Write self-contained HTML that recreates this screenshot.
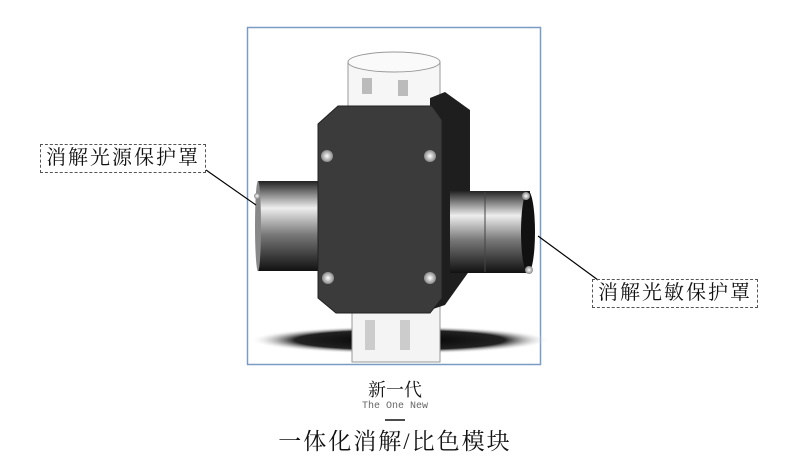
<!DOCTYPE html>
<html><head><meta charset="utf-8"><style>
body{margin:0;background:#fff;width:790px;height:471px;overflow:hidden;position:relative;font-family:"Liberation Sans","Noto Sans CJK SC",sans-serif}
.lbl{position:absolute;border:1px dashed #555;font-size:20px;color:#111;line-height:27px;padding:0 5px;font-family:"Liberation Serif","Noto Serif CJK SC",serif;white-space:nowrap;letter-spacing:2px}
.t{position:absolute;left:0;width:790px;text-align:center;color:#111}
</style></head><body>
<svg width="790" height="471" style="position:absolute;left:0;top:0">
<defs>
<linearGradient id="cyl" x1="0" y1="0" x2="0" y2="1">
<stop offset="0" stop-color="#222"/><stop offset="0.3" stop-color="#eee"/><stop offset="0.6" stop-color="#777"/><stop offset="1" stop-color="#111"/></linearGradient>
<radialGradient id="sh" cx="0.5" cy="0.5" r="0.5"><stop offset="0" stop-color="#000"/><stop offset="0.7" stop-color="#222"/><stop offset="1" stop-color="#fff" stop-opacity="0"/></radialGradient>
<radialGradient id="sc"><stop offset="0" stop-color="#fff"/><stop offset="1" stop-color="#888"/></radialGradient>
</defs>
<rect x="247.5" y="27.5" width="293" height="337" fill="#fff" stroke="#7a9cc4" stroke-width="1.5"/>
<ellipse cx="400" cy="340" rx="150" ry="14" fill="url(#sh)"/>
<rect x="352" y="305" width="88" height="57" fill="#f4f4f4" stroke="#999"/>
<rect x="365" y="320" width="10" height="30" fill="#ccc"/><rect x="400" y="320" width="10" height="30" fill="#ccc"/>
<rect x="348" y="62" width="92" height="50" fill="#f6f6f6" stroke="#999"/>
<ellipse cx="394" cy="62" rx="46" ry="10" fill="#fafafa" stroke="#999"/>
<rect x="362" y="78" width="10" height="16" fill="#bbb"/><rect x="398" y="80" width="10" height="16" fill="#bbb"/>
<polygon points="430,98 445,92 470,110 470,270 445,305 430,310" fill="#1e1e1e"/>
<rect x="258" y="181" width="64" height="90" fill="url(#cyl)"/>
<ellipse cx="258" cy="226" rx="3" ry="45" fill="#888"/>
<circle cx="257" cy="196" r="3" fill="url(#sc)"/>
<rect x="450" y="191" width="80" height="82" fill="url(#cyl)"/>
<line x1="485" y1="192" x2="485" y2="272" stroke="#444"/>
<ellipse cx="528" cy="232" rx="7" ry="41" fill="#111"/>
<circle cx="526" cy="196" r="4" fill="url(#sc)"/><circle cx="529" cy="270" r="4" fill="url(#sc)"/>
<polygon points="338,106 432,106 442,120 442,298 430,313 336,313 318,298 318,124" fill="#3b3b3b" stroke="#222"/>
<circle cx="327" cy="156" r="6" fill="url(#sc)"/><circle cx="430" cy="156" r="6" fill="url(#sc)"/>
<circle cx="328" cy="278" r="6" fill="url(#sc)"/><circle cx="430" cy="278" r="6" fill="url(#sc)"/>
<line x1="206" y1="170" x2="256" y2="205" stroke="#000" stroke-width="1.2"/>
<line x1="538" y1="236" x2="598" y2="280" stroke="#000" stroke-width="1.2"/>
<line x1="385" y1="420" x2="405" y2="420" stroke="#111" stroke-width="1.5"/>
</svg>
<div class="lbl" style="left:40px;top:144px">消解光源保护罩</div>
<div class="lbl" style="left:592px;top:279px">消解光敏保护罩</div>
<div class="t" style="top:376px;font-size:18px;font-family:'Liberation Serif','Noto Serif CJK SC',serif">新一代</div>
<div class="t" style="top:401px;font-size:10px;color:#666;font-family:'Liberation Mono',monospace">The One New</div>
<div class="t" style="top:423px;font-size:23px;letter-spacing:2px;font-family:'Liberation Serif','Noto Serif CJK SC',serif">一体化消解/比色模块</div>
</body></html>
